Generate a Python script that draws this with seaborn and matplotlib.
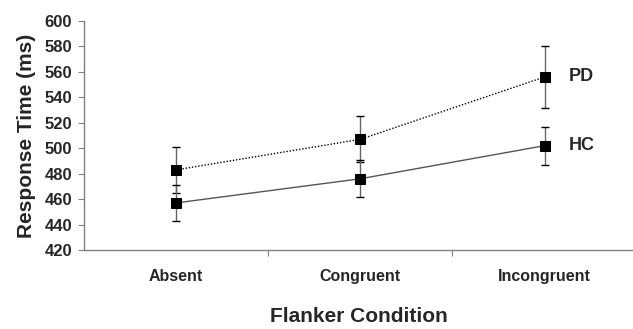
import pandas as pd
import numpy as np
import seaborn as sns
import matplotlib.pyplot as plt

conditions = ['Absent', 'Congruent', 'Incongruent']
groups = ['PD', 'HC']
pd_means = [483, 507, 556]
pd_errs = [18, 18, 24]
hc_means = [457, 476, 502]
hc_errs = [14, 14.5, 15]

df = pd.DataFrame({
    'condition': conditions * 2,
    'group': ['PD'] * 3 + ['HC'] * 3,
    'rt': pd_means + hc_means,
    'err': pd_errs + hc_errs,
})

sns.set_style('white')
plt.rcParams['font.family'] = ['Liberation Sans', 'DejaVu Sans']

fig = plt.figure(figsize=(6.33, 3.29), dpi=100)
ax = fig.add_axes([84 / 633, 1 - 250 / 329, 1 - 84 / 633, 229 / 329])

# error bars first, under the markers
x_pos = np.arange(len(conditions))
for g in groups:
    sub = df[df['group'] == g]
    ax.errorbar(x_pos, sub['rt'], yerr=sub['err'], fmt='none',
                ecolor='#666666', elinewidth=1, capsize=3.2, capthick=1, zorder=2)

sns.lineplot(data=df, x='condition', y='rt', hue='group', style='group',
             palette={'PD': 'black', 'HC': '#555555'},
             dashes={'PD': (1.0, 1.3), 'HC': ''},
             markers={'PD': 's', 'HC': 's'}, sort=False, legend=False,
             linewidth=1.0, markersize=7, ax=ax, zorder=3)
for line in ax.lines:
    line.set_markerfacecolor('black')
    line.set_markeredgecolor('black')
ax.lines[0].set_linewidth(2.2)

ax.set_xlim(-0.5, 2.48)
ax.set_ylim(420, 600)
ax.set_yticks(range(420, 601, 20))
ax.set_xticks(x_pos)
ax.set_xticklabels(conditions, fontsize=11.5, fontweight='bold')
ax.tick_params(axis='y', labelsize=12, length=4.5, width=0.8, color='#808080',
               direction='out', left=True, pad=4)
ax.tick_params(axis='x', length=0, pad=14)
for lab in ax.get_yticklabels():
    lab.set_fontweight('bold')
# ticks between categories
ax.set_xticks([0.5, 1.5], minor=True)
ax.tick_params(axis='x', which='minor', length=4, width=0.8, color='#808080', direction='out', bottom=True)

for s in ['top', 'right']:
    ax.spines[s].set_visible(False)
for s in ['left', 'bottom']:
    ax.spines[s].set_color('#808080')
    ax.spines[s].set_linewidth(1)

ax.set_ylabel('Response Time (ms)', fontsize=15, fontweight='bold', labelpad=6)
ax.set_xlabel('Flanker Condition', fontsize=15, fontweight='bold', labelpad=16)

ax.text(2.13, pd_means[2], 'PD', fontsize=13, fontweight='bold', va='center', ha='left')
ax.text(2.13, hc_means[2], 'HC', fontsize=13, fontweight='bold', va='center', ha='left')

fig.savefig('out.png', dpi=100)
